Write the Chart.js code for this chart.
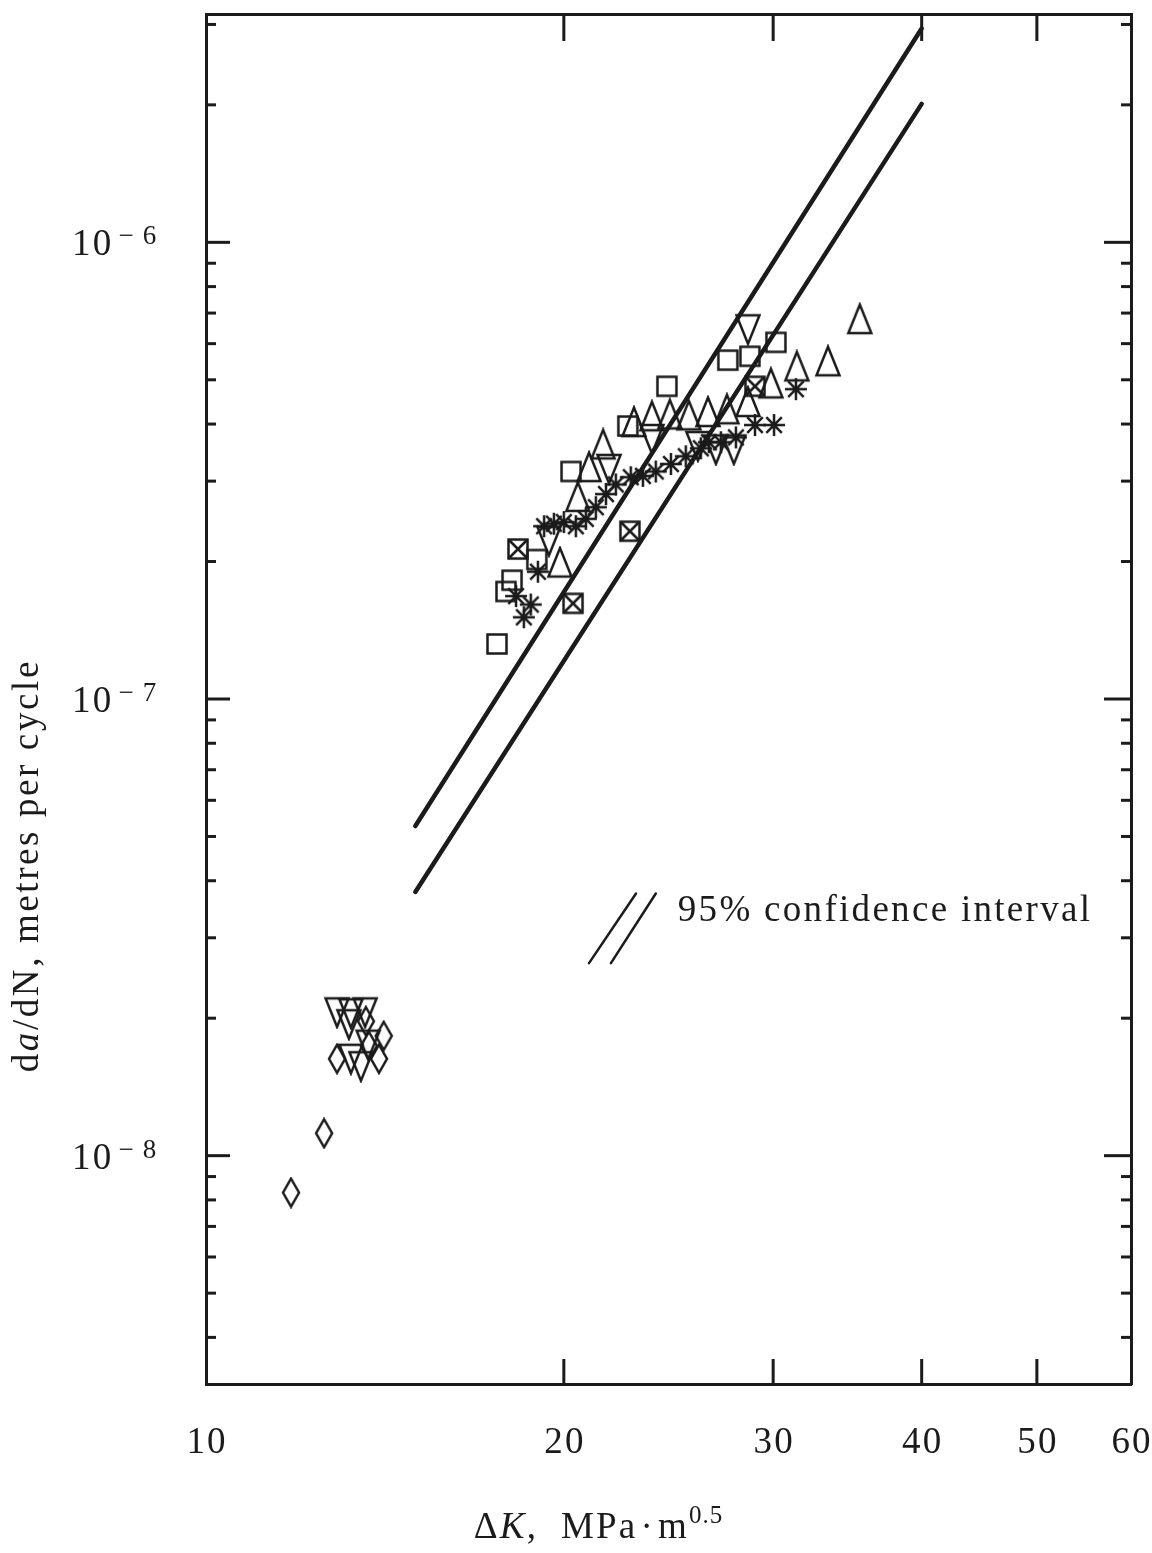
<!DOCTYPE html>
<html>
<head>
<meta charset="utf-8">
<script src="https://cdn.jsdelivr.net/npm/chart.js@4.4.0/dist/chart.umd.min.js"></script>
<style>
  html, body { margin: 0; padding: 0; background: #ffffff; }
  canvas { display: block; }
</style>
</head>
<body>
<canvas id="c" width="1152" height="1553"></canvas>
<script>
// ---------------- data ----------------
// x: stress-intensity range ΔK (MPa·m^0.5); y: da/dN (m/cycle)
const squareK      = [17.57, 17.88, 18.09, 18.98, 20.28, 22.64, 24.42, 27.48, 28.68, 30.16];
const squareRate   = [1.32e-7, 1.72e-7, 1.82e-7, 2.02e-7, 3.15e-7, 3.96e-7, 4.84e-7, 5.52e-7, 5.63e-7, 6.04e-7];

const crossSqK     = [18.30, 20.36, 22.73, 28.96];
const crossSqRate  = [2.13e-7, 1.62e-7, 2.33e-7, 4.84e-7];

const triUpK       = [19.85, 20.55, 21.00, 21.58, 22.91, 23.72, 24.56, 25.48, 26.44, 27.43, 28.57, 29.87, 31.41, 33.36, 35.48];
const triUpRate    = [1.99e-7, 2.77e-7, 3.22e-7, 3.61e-7, 4.04e-7, 4.16e-7, 4.20e-7, 4.18e-7, 4.25e-7, 4.31e-7, 4.47e-7, 4.91e-7, 5.35e-7, 5.49e-7, 6.79e-7];

const triDownK     = [12.89, 13.24, 13.61, 13.19, 13.69, 13.24, 13.50, 19.43, 21.83, 23.72, 25.93, 26.85, 27.80, 28.57];
const triDownRate  = [2.06e-8, 2.05e-8, 2.06e-8, 1.94e-8, 1.75e-8, 1.63e-8, 1.57e-8, 2.22e-7, 3.19e-7, 3.71e-7, 3.58e-7, 3.52e-7, 3.52e-7, 6.45e-7];

const asteriskK    = [18.23, 18.51, 18.76, 19.02, 19.25, 19.62, 20.00, 20.47, 20.87, 21.28, 21.70, 22.12, 22.77, 23.31, 23.90, 24.61, 25.33, 26.08, 26.49, 27.11, 27.91, 28.96, 30.05, 31.35];
const asteriskRate = [1.68e-7, 1.51e-7, 1.61e-7, 1.90e-7, 2.39e-7, 2.42e-7, 2.44e-7, 2.39e-7, 2.48e-7, 2.63e-7, 2.81e-7, 2.95e-7, 3.06e-7, 3.08e-7, 3.15e-7, 3.27e-7, 3.40e-7, 3.54e-7, 3.65e-7, 3.65e-7, 3.74e-7, 3.98e-7, 3.98e-7, 4.77e-7];

const diamondK     = [11.79, 12.57, 12.89, 13.63, 14.11, 13.98, 13.71];
const diamondRate  = [8.30e-9, 1.12e-8, 1.63e-8, 1.97e-8, 1.83e-8, 1.63e-8, 1.74e-8];

// 95% confidence band lines
const bandK         = [15, 40];
const bandUpperRate = [5.27e-8, 2.94e-6];
const bandLowerRate = [3.78e-8, 2.01e-6];

// key symbol (two short parallel strokes) and its label
const keyK1     = [21.00, 23.00];
const keyK2     = [21.91, 23.90];
const keyRate   = [2.64e-8, 3.75e-8];
const keyLabel  = '95% confidence interval';
const keyLabelK = 24.94;
const keyLabelRate = 3.26e-8;

// axes
const xMin = 10, xMax = 60;
const yMin = 3.1623e-9, yMax = 3.1623e-6;
const xTickLabels = [10, 20, 30, 40, 50, 60];
const xTickMarks  = [20, 30, 40, 50];
const yMajorTicks = [1e-6, 1e-7, 1e-8];
const yMajorExp   = ['6', '7', '8'];
const yDecades    = [1e-9, 1e-8, 1e-7, 1e-6];
const minorMultiples = [2, 3, 4, 5, 6, 7, 8, 9];

// ---------------- styling ----------------
const INK = '#1b1b1b';
const SERIF = '"Liberation Serif", "Times New Roman", serif';
const SP = 2.2; // letter spacing of the typeset text

function mk(w, h, draw) {
  const c = document.createElement('canvas');
  c.width = w; c.height = h;
  const g = c.getContext('2d');
  g.strokeStyle = INK; g.lineWidth = 2.5; g.lineJoin = 'miter';
  draw(g);
  return c;
}
const squareImg = mk(24, 24, g => { g.strokeRect(2.5, 2.5, 19, 19); });
const crossImg = mk(24, 24, g => {
  g.strokeRect(2.5, 2.5, 19, 19);
  g.beginPath(); g.moveTo(3.5, 3.5); g.lineTo(20.5, 20.5); g.moveTo(20.5, 3.5); g.lineTo(3.5, 20.5); g.stroke();
});
const upImg = mk(28, 34, g => {
  g.beginPath(); g.moveTo(14, 2.5); g.lineTo(25.5, 31); g.lineTo(2.5, 31); g.closePath(); g.stroke();
});
const downImg = mk(28, 34, g => {
  g.beginPath(); g.moveTo(2.5, 3); g.lineTo(25.5, 3); g.lineTo(14, 31.5); g.closePath(); g.stroke();
});
const starImg = mk(26, 26, g => {
  g.beginPath();
  const c = 13, r = 11;
  for (let i = 0; i < 4; i++) {
    const a = i * Math.PI / 4;
    g.moveTo(c - r * Math.cos(a), c - r * Math.sin(a));
    g.lineTo(c + r * Math.cos(a), c + r * Math.sin(a));
  }
  g.stroke();
});
const diamondImg = mk(20, 32, g => {
  g.beginPath(); g.moveTo(10, 2); g.lineTo(18, 16); g.lineTo(10, 30); g.lineTo(2, 16); g.closePath(); g.stroke();
});

const pts = (xs, ys) => xs.map((v, i) => ({ x: v, y: ys[i] }));

function markerSet(label, xs, ys, img) {
  return { label, data: pts(xs, ys), pointStyle: img, pointRadius: 10, showLine: false,
           borderColor: INK, backgroundColor: 'transparent' };
}
function lineSet(label, xs, ys, w) {
  return { label, data: pts(xs, ys), showLine: true, pointRadius: 0, borderWidth: w,
           borderColor: INK, backgroundColor: 'transparent', borderCapStyle: 'round', fill: false };
}

// ---------------- text helpers ----------------
function runsWidth(ctx, runs) {
  let w = 0;
  runs.forEach(r => {
    ctx.font = r.font;
    const sp = r.sp ?? SP;
    for (const ch of r.text) w += ctx.measureText(ch).width + sp;
    w += (r.gap || 0);
  });
  return w - (runs.length ? (runs[runs.length - 1].sp ?? SP) : 0);
}
function drawRuns(ctx, runs, x, y, align) {
  const w = runsWidth(ctx, runs);
  let cx = align === 'center' ? x - w / 2 : (align === 'right' ? x - w : x);
  ctx.textAlign = 'left'; ctx.textBaseline = 'alphabetic';
  runs.forEach(r => {
    ctx.font = r.font;
    const sp = r.sp ?? SP;
    for (const ch of r.text) {
      ctx.fillText(ch, cx, y + (r.dy || 0));
      cx += ctx.measureText(ch).width + sp;
    }
    cx += (r.gap || 0);
  });
}

const F = (px, style) => `${style || ''} ${px}px ${SERIF}`.trim();

const decorPlugin = {
  id: 'decor',
  afterDraw(chart) {
    const { ctx, chartArea: a } = chart;
    const xs = chart.scales.x, ys = chart.scales.y;
    ctx.save();
    ctx.strokeStyle = INK; ctx.fillStyle = INK; ctx.lineCap = 'butt';
    const seg = (x1, y1, x2, y2, w) => { ctx.lineWidth = w; ctx.beginPath(); ctx.moveTo(x1, y1); ctx.lineTo(x2, y2); ctx.stroke(); };

    // inward tick marks
    xTickMarks.forEach(v => {
      const px = xs.getPixelForValue(v);
      seg(px, a.bottom, px, a.bottom - 25, 3);
      seg(px, a.top, px, a.top + 27, 3);
    });
    yMajorTicks.forEach(v => {
      const py = ys.getPixelForValue(v);
      seg(a.left, py, a.left + 24, py, 3);
      seg(a.right, py, a.right - 27, py, 3);
    });
    yDecades.forEach(d => minorMultiples.forEach(m => {
      const v = m * d;
      if (v <= yMin || v >= yMax) return;
      const py = ys.getPixelForValue(v);
      seg(a.left, py, a.left + 10, py, 3);
      seg(a.right, py, a.right - 10, py, 3);
    }));

    // x tick labels
    xTickLabels.forEach(v => {
      drawRuns(ctx, [{ text: String(v), font: F(37) }], xs.getPixelForValue(v), 1453, 'center');
    });
    // y tick labels 10^-n
    yMajorTicks.forEach((v, i) => {
      const py = ys.getPixelForValue(v);
      drawRuns(ctx, [
        { text: '10', font: F(37), gap: 5 },
        { text: '\u2212', font: F(27), dy: -11, gap: 7 },
        { text: yMajorExp[i], font: F(27), dy: -11 }
      ], 72, py + 13, 'left');
    });

    // x axis title
    drawRuns(ctx, [
      { text: '\u0394', font: F(37) },
      { text: 'K', font: F(37, 'italic') },
      { text: ',  MPa', font: F(37), gap: 3 },
      { text: '\u00B7', font: F(37), gap: 3 },
      { text: 'm', font: F(37), gap: 0 },
      { text: '0.5', font: F(25), dy: -15, sp: 1 }
    ], 598, 1538, 'center');

    // y axis title (rotated)
    ctx.save();
    ctx.translate(38, 867);
    ctx.rotate(-Math.PI / 2);
    drawRuns(ctx, [
      { text: 'd', font: F(37), sp: 2.6 },
      { text: 'a', font: F(37, 'italic'), sp: 2.6 },
      { text: '/dN, metres per cycle', font: F(37), sp: 2.6 }
    ], 0, 0, 'center');
    ctx.restore();

    // key label
    drawRuns(ctx, [{ text: keyLabel, font: F(37), sp: 2.3 }],
      xs.getPixelForValue(keyLabelK), ys.getPixelForValue(keyLabelRate), 'left');

    ctx.restore();
  }
};

const axisCommon = {
  type: 'logarithmic',
  ticks: { display: false },
  grid: { display: false, drawTicks: false },
  border: { display: true, width: 3, color: INK }
};

new Chart(document.getElementById('c'), {
  type: 'scatter',
  data: {
    datasets: [
      markerSet('square', squareK, squareRate, squareImg),
      markerSet('crossed square', crossSqK, crossSqRate, crossImg),
      markerSet('triangle', triUpK, triUpRate, upImg),
      markerSet('inverted triangle', triDownK, triDownRate, downImg),
      markerSet('asterisk', asteriskK, asteriskRate, starImg),
      markerSet('diamond', diamondK, diamondRate, diamondImg),
      lineSet('upper 95% bound', bandK, bandUpperRate, 4.5),
      lineSet('lower 95% bound', bandK, bandLowerRate, 4.5),
      lineSet('key stroke 1', keyK1, keyRate, 2.5),
      lineSet('key stroke 2', keyK2, keyRate, 2.5)
    ]
  },
  options: {
    responsive: false,
    maintainAspectRatio: false,
    devicePixelRatio: 1,
    animation: false,
    layout: { padding: 0 },
    plugins: { legend: { display: false }, tooltip: { enabled: false }, title: { display: false } },
    scales: {
      x: { ...axisCommon, position: 'bottom', min: xMin, max: xMax, afterFit(s) { s.height = 169; } },
      xTop: { ...axisCommon, position: 'top', min: xMin, max: xMax, afterFit(s) { s.height = 14; } },
      y: { ...axisCommon, position: 'left', min: yMin, max: yMax, afterFit(s) { s.width = 206; } },
      yRight: { ...axisCommon, position: 'right', min: yMin, max: yMax, afterFit(s) { s.width = 21; } }
    }
  },
  plugins: [decorPlugin]
});
</script>
</body>
</html>
